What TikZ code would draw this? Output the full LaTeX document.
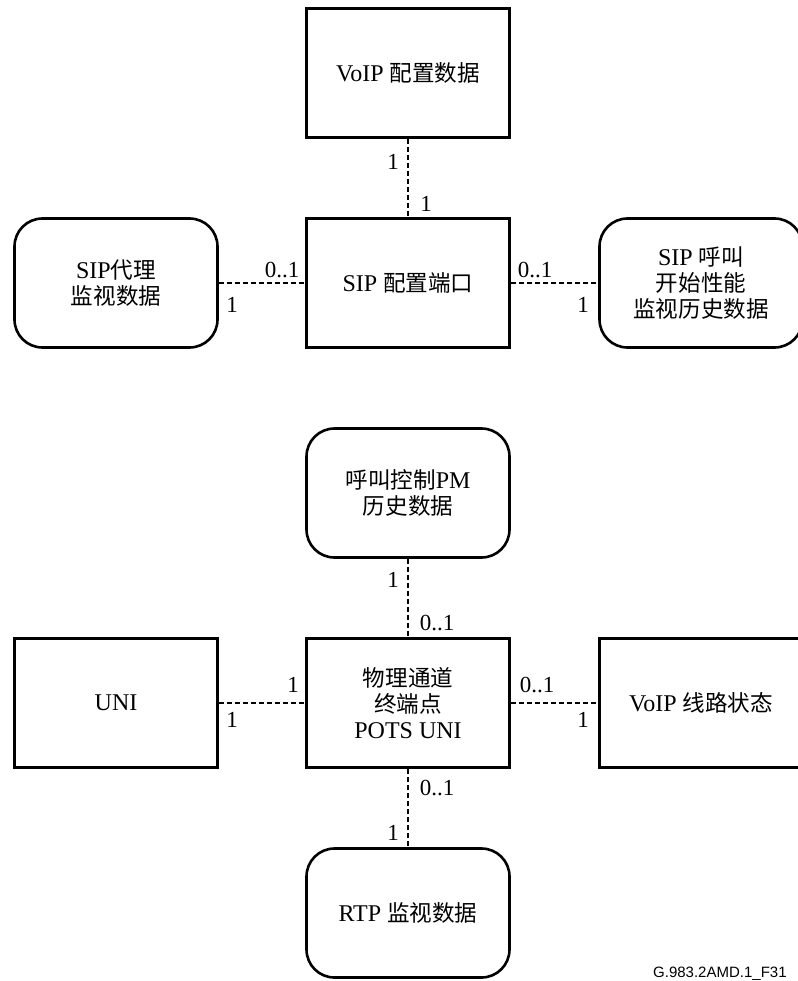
\documentclass[tikz,border=0pt]{standalone}
\usepackage{fontspec}
\setmainfont{Liberation Serif}
\newfontfamily\cjk[Scale=0.94]{Noto Sans CJK SC}
\newfontfamily\footfont{Liberation Sans}
\newcommand{\zhtext}[1]{{\cjk #1}}
\begin{document}
\begin{tikzpicture}[x=1pt,y=-1pt,
  box/.style={draw, line width=2.6pt, minimum width=203pt, minimum height=129pt, inner sep=0pt, align=center, font=\fontsize{24}{26}\selectfont},
  rbox/.style={box, rounded corners=28pt},
  link/.style={line width=1.2pt, dash pattern=on 5pt off 3pt},
  mult/.style={font=\fontsize{23}{25}\selectfont, inner sep=0pt}]
\useasboundingbox (0,0) rectangle (797,981);
% upper group
\node[box]  (voip)     at (408,73)  {VoIP \zhtext{配置数据}};
\node[box]  (sipport)  at (408,283) {SIP \zhtext{配置端口}};
\node[rbox] (sipagent) at (116,283) {SIP\zhtext{代理}\\\zhtext{监视数据}};
\node[rbox] (sipcall)  at (701,283) {SIP \zhtext{呼叫}\\\zhtext{开始性能}\\\zhtext{监视历史数据}};
% lower group
\node[rbox] (callpm)   at (408,493) {\zhtext{呼叫控制}PM\\\zhtext{历史数据}};
\node[box]  (pots)     at (408,703) {\zhtext{物理通道}\\\zhtext{终端点}\\POTS UNI};
\node[box]  (uni)      at (116,703) {UNI};
\node[box]  (voipline) at (701,703) {VoIP \zhtext{线路状态}};
\node[rbox] (rtp)      at (408,913) {RTP \zhtext{监视数据}};
% connectors
\draw[link] (voip) -- (sipport);
\draw[link] (sipagent) -- (sipport);
\draw[link] (sipport) -- (sipcall);
\draw[link] (callpm) -- (pots);
\draw[link] (uni) -- (pots);
\draw[link] (pots) -- (voipline);
\draw[link] (pots) -- (rtp);
% multiplicities
\node[mult] (m1)  at (393,162) {1};
\node[mult] (m2)  at (426,204) {1};
\node[mult] (m3)  at (282,270) {0..1};
\node[mult] (m4)  at (232,305) {1};
\node[mult] (m5)  at (535,270) {0..1};
\node[mult] (m6)  at (583,305) {1};
\node[mult] (m7)  at (393,580) {1};
\node[mult] (m8)  at (437,623) {0..1};
\node[mult] (m9)  at (293,685) {1};
\node[mult] (m10) at (232,720) {1};
\node[mult] (m11) at (537,685) {0..1};
\node[mult] (m12) at (583,720) {1};
\node[mult] (m13) at (437,788) {0..1};
\node[mult] (m14) at (393,833) {1};
% footer
\node[font=\footfont\fontsize{15}{18}\selectfont, anchor=base west, inner sep=0pt] (foot) at (653,977) {G.983.2AMD.1\_F31};
\end{tikzpicture}
\end{document}
